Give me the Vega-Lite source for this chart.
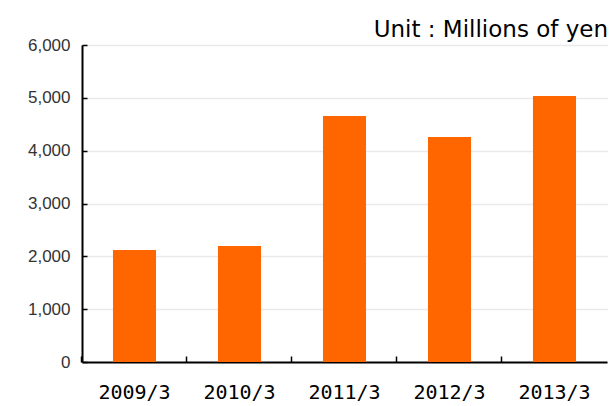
{
  "$schema": "https://vega.github.io/schema/vega-lite/v6.json",
  "autosize": "none",
  "width": 525,
  "height": 317,
  "padding": {"left": 82, "top": 45, "right": 5, "bottom": 44},
  "background": "white",
  "title": {
    "text": "Unit : Millions of yen",
    "anchor": "end",
    "frame": "group",
    "orient": "top",
    "baseline": "alphabetic",
    "offset": 8,
    "dx": 1,
    "dy": 32,
    "font": "DejaVu Sans",
    "fontSize": 23,
    "fontWeight": "normal",
    "color": "#000000"
  },
  "data": {
    "values": [
      {"year": "2009/3", "value": 2120},
      {"year": "2010/3", "value": 2195},
      {"year": "2011/3", "value": 4655},
      {"year": "2012/3", "value": 4257},
      {"year": "2013/3", "value": 5033}
    ]
  },
  "mark": {"type": "bar", "color": "#FF6600"},
  "encoding": {
    "x": {
      "field": "year",
      "type": "ordinal",
      "sort": null,
      "scale": {"paddingInner": 0.59, "paddingOuter": 0.295},
      "axis": {
        "title": null,
        "labelAngle": 0,
        "bandPosition": -0.72,
        "grid": false,
        "domainColor": "#000000",
        "domainWidth": 2,
        "tickColor": "#000000",
        "tickWidth": 1.5,
        "tickSize": -6,
        "labelPadding": 26,
        "labelFont": "DejaVu Sans Mono",
        "labelFontSize": 20,
        "labelColor": "#000000"
      }
    },
    "y": {
      "field": "value",
      "type": "quantitative",
      "scale": {"domain": [0, 6000]},
      "axis": {
        "title": null,
        "values": [0, 1000, 2000, 3000, 4000, 5000, 6000],
        "format": ",d",
        "grid": true,
        "gridColor": "#d4d4d4",
        "gridDash": [1, 1],
        "gridWidth": 1.5,
        "domainColor": "#000000",
        "domainWidth": 2,
        "tickColor": "#000000",
        "tickWidth": 1.5,
        "tickSize": -5,
        "labelPadding": 17,
        "labelFont": "Liberation Sans",
        "labelFontSize": 17,
        "labelColor": "#333333"
      }
    }
  },
  "config": {"view": {"stroke": null}}
}
